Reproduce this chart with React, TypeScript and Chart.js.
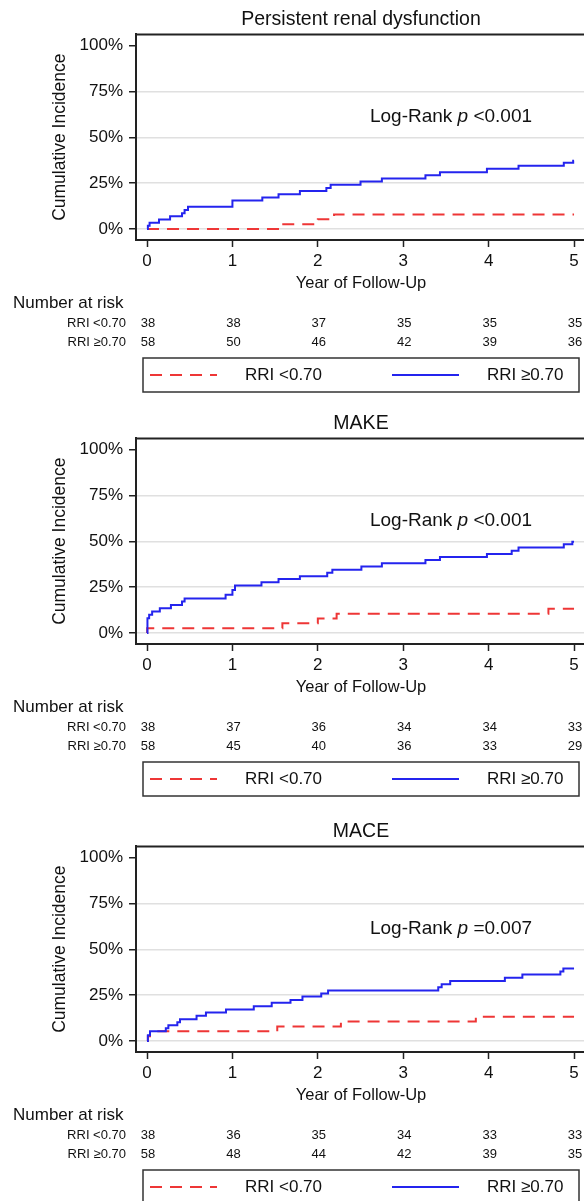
import React, { useEffect, useRef } from 'react';
import { Chart, registerables } from 'chart.js';

Chart.register(...registerables);

const FONT = '"Liberation Sans", Arial, Helvetica, sans-serif';
const BLUE = '#2424ee';
const RED = '#ee3636';
const AXIS = '#222222';
const GRID = '#e0e0e0';
const TEXT = '#111111';

// ---- shared axis / label values ----
const xTicks = [0, 1, 2, 3, 4, 5];
const yTicks = [0, 25, 50, 75, 100];
const groupLabels = ['RRI <0.70', 'RRI \u22650.70'];
const riskYears = [0, 1, 2, 3, 4, 5];
const panelTitles = ['Persistent renal dysfunction', 'MAKE', 'MACE'];
const pValueTexts = ['<0.001', '<0.001', '=0.007'];

// ---- Panel 1: Persistent renal dysfunction ----
const prdLowTimes = [0, 1.56, 2.0, 2.19, 5.0];
const prdLowInc = [0, 2.6, 5.3, 7.9, 7.9];
const prdHighTimes = [0, 0.01, 0.03, 0.14, 0.27, 0.41, 0.44, 0.48, 1.0, 1.35, 1.54, 1.79, 2.1, 2.15, 2.5, 2.75, 3.26, 3.43, 3.98, 4.35, 4.88, 4.99, 5.0];
const prdHighInc = [0, 1.7, 3.4, 5.2, 6.9, 8.6, 10.3, 12.1, 15.5, 17.2, 19.0, 20.7, 22.4, 24.1, 25.9, 27.6, 29.3, 31.0, 32.8, 34.5, 36.2, 37.2, 37.2];
const prdRiskLow = [38, 38, 37, 35, 35, 35];
const prdRiskHigh = [58, 50, 46, 42, 39, 36];

// ---- Panel 2: MAKE ----
const makeLowTimes = [0, 0.002, 1.585, 2.0, 2.22, 4.7, 5.0];
const makeLowInc = [0, 2.6, 5.3, 7.9, 10.5, 13.2, 13.2];
const makeHighTimes = [0, 0.005, 0.025, 0.06, 0.15, 0.28, 0.41, 0.44, 0.92, 1.0, 1.03, 1.34, 1.54, 1.79, 2.11, 2.17, 2.51, 2.75, 3.26, 3.43, 3.98, 4.27, 4.35, 4.88, 4.98, 5.0];
const makeHighInc = [0, 8.0, 9.9, 11.7, 13.5, 15.3, 17.2, 18.8, 20.8, 23.4, 25.9, 27.7, 29.4, 31.0, 32.9, 34.5, 36.3, 38.0, 39.8, 41.4, 43.1, 44.9, 46.7, 48.4, 49.8, 49.8];
const makeRiskLow = [38, 37, 36, 34, 34, 33];
const makeRiskHigh = [58, 45, 40, 36, 33, 29];

// ---- Panel 3: MACE ----
const maceLowTimes = [0, 0.01, 0.035, 1.525, 2.27, 3.85, 5.0];
const maceLowInc = [0, 2.6, 5.3, 7.9, 10.6, 13.2, 13.2];
const maceHighTimes = [0, 0.01, 0.035, 0.22, 0.25, 0.355, 0.386, 0.58, 0.69, 0.925, 1.25, 1.46, 1.68, 1.82, 2.04, 2.12, 3.41, 3.45, 3.55, 4.19, 4.395, 4.84, 4.875, 5.0];
const maceHighInc = [0, 3.1, 5.3, 6.9, 8.6, 10.2, 11.9, 13.7, 15.5, 17.2, 19.0, 20.8, 22.4, 24.3, 25.9, 27.6, 29.3, 31.0, 32.7, 34.5, 36.3, 37.9, 39.6, 39.6];
const maceRiskLow = [38, 36, 35, 34, 33, 33];
const maceRiskHigh = [58, 48, 44, 42, 39, 35];

const panelLowTimes = [prdLowTimes, makeLowTimes, maceLowTimes];
const panelLowInc = [prdLowInc, makeLowInc, maceLowInc];
const panelHighTimes = [prdHighTimes, makeHighTimes, maceHighTimes];
const panelHighInc = [prdHighInc, makeHighInc, maceHighInc];
const panelRiskLow = [prdRiskLow, makeRiskLow, maceRiskLow];
const panelRiskHigh = [prdRiskHigh, makeRiskHigh, maceRiskHigh];

const toPoints = (ts: number[], vs: number[]) => ts.map((t, i) => ({ x: t, y: vs[i] }));

const CANVAS_W = 600;
const X_AXIS_H = 55;
const PLOT_BOTTOM = 240;

function makeOverlay(idx: number) {
  return {
    id: 'kmOverlay' + idx,
    afterDraw(chart: any) {
      const { ctx, chartArea, scales } = chart;
      const xs = scales.x;
      const ys = scales.y;
      ctx.save();
      // top frame line
      ctx.strokeStyle = AXIS;
      ctx.lineWidth = 2;
      ctx.beginPath();
      ctx.moveTo(chartArea.left - 1, chartArea.top);
      ctx.lineTo(chartArea.right, chartArea.top);
      ctx.stroke();

      // Log-rank annotation
      ctx.fillStyle = TEXT;
      ctx.textBaseline = 'middle';
      ctx.textAlign = 'left';
      let tx = xs.getPixelForValue(2.61);
      const ty = ys.getPixelForValue(61.3);
      ctx.font = `19px ${FONT}`;
      const part1 = 'Log-Rank ';
      ctx.fillText(part1, tx, ty);
      tx += ctx.measureText(part1).width;
      ctx.font = `italic 19px ${FONT}`;
      ctx.fillText('p', tx, ty);
      tx += ctx.measureText('p ').width;
      ctx.font = `19px ${FONT}`;
      ctx.fillText(pValueTexts[idx], tx, ty);

      // Number at risk table
      ctx.font = `17px ${FONT}`;
      ctx.fillText('Number at risk', 13, 303);
      ctx.font = `13px ${FONT}`;
      ctx.textAlign = 'right';
      ctx.fillText(groupLabels[0], 126, 323);
      ctx.fillText(groupLabels[1], 126, 342);
      ctx.textAlign = 'center';
      riskYears.forEach((yr, i) => {
        const px = xs.getPixelForValue(yr) + 1;
        ctx.fillText(String(panelRiskLow[idx][i]), px, 323);
        ctx.fillText(String(panelRiskHigh[idx][i]), px, 342);
      });

      // legend box
      ctx.strokeStyle = '#333333';
      ctx.lineWidth = 1.5;
      ctx.strokeRect(143, 358, 436, 34);
      ctx.lineWidth = 2;
      ctx.strokeStyle = RED;
      ctx.setLineDash([12, 8]);
      ctx.beginPath();
      ctx.moveTo(150, 375);
      ctx.lineTo(217, 375);
      ctx.stroke();
      ctx.setLineDash([]);
      ctx.strokeStyle = BLUE;
      ctx.beginPath();
      ctx.moveTo(392, 375);
      ctx.lineTo(459, 375);
      ctx.stroke();
      ctx.font = `17px ${FONT}`;
      ctx.textAlign = 'left';
      ctx.fillStyle = TEXT;
      ctx.fillText(groupLabels[0], 245, 375);
      ctx.fillText(groupLabels[1], 487, 375);
      ctx.restore();
    },
  };
}

function KMPanel({ idx, top, height }: { idx: number; top: number; height: number }) {
  const ref = useRef<HTMLCanvasElement>(null);
  useEffect(() => {
    const canvas = ref.current;
    if (!canvas) return;
    const chart = new Chart(canvas, {
      type: 'line',
      data: {
        datasets: [
          {
            label: groupLabels[1],
            data: toPoints(panelHighTimes[idx], panelHighInc[idx]),
            borderColor: BLUE,
            borderWidth: 2,
            stepped: 'before',
            pointRadius: 0,
            fill: false,
          },
          {
            label: groupLabels[0],
            data: toPoints(panelLowTimes[idx], panelLowInc[idx]),
            borderColor: RED,
            borderWidth: 2,
            borderDash: [12, 8],
            stepped: 'before',
            pointRadius: 0,
            fill: false,
          },
        ],
      },
      options: {
        responsive: false,
        animation: false,
        events: [],
        layout: { padding: { left: 0, right: 14, top: 0, bottom: height - PLOT_BOTTOM - X_AXIS_H } },
        plugins: {
          legend: { display: false },
          tooltip: { enabled: false },
          title: {
            display: true,
            text: panelTitles[idx],
            fullSize: false,
            color: TEXT,
            font: { family: FONT, size: 19.5, weight: 'normal' },
            padding: { top: 8, bottom: 3 },
          },
        },
        scales: {
          x: {
            type: 'linear',
            min: -0.129,
            max: 5.14,
            afterBuildTicks: (s: any) => {
              s.ticks = xTicks.map((v) => ({ value: v }));
            },
            afterFit: (s: any) => {
              s.height = X_AXIS_H;
            },
            ticks: {
              color: TEXT,
              font: { family: FONT, size: 17 },
              padding: 4,
              maxRotation: 0,
              autoSkip: false,
              callback: (v: any) => String(v),
            },
            grid: {
              drawOnChartArea: false,
              drawTicks: true,
              tickLength: 7,
              tickColor: AXIS,
              tickWidth: 1.5,
            },
            border: { display: true, color: AXIS, width: 2 },
            title: {
              display: true,
              text: 'Year of Follow-Up',
              color: TEXT,
              font: { family: FONT, size: 16.5 },
              padding: { top: 0, bottom: 2 },
            },
          },
          y: {
            type: 'linear',
            min: -6.02,
            max: 106.18,
            afterBuildTicks: (s: any) => {
              s.ticks = yTicks.map((v) => ({ value: v }));
            },
            afterFit: (s: any) => {
              s.width = 136;
            },
            ticks: {
              color: TEXT,
              font: { family: FONT, size: 17 },
              padding: 6,
              callback: (v: any) => v + '%',
            },
            grid: {
              color: (c: any) => (c.tick && c.tick.value === 100 ? 'rgba(0,0,0,0)' : GRID),
              lineWidth: 1.5,
              drawTicks: true,
              tickLength: 7,
              tickColor: AXIS,
              tickWidth: 1.5,
            },
            border: { display: true, color: AXIS, width: 2 },
            title: {
              display: true,
              text: 'Cumulative Incidence',
              color: TEXT,
              font: { family: FONT, size: 17.5 },
              padding: { top: 49.5, bottom: 0 },
            },
          },
        },
      },
      plugins: [makeOverlay(idx)],
    } as any);
    return () => chart.destroy();
  }, [idx, height]);
  return (
    <canvas
      ref={ref}
      width={CANVAS_W}
      height={height}
      style={{ position: 'absolute', left: 0, top, width: CANVAS_W, height, display: 'block' }}
    />
  );
}

const panelTops = [0, 404, 812];
const panelHeights = [404, 404, 389];

export default function App() {
  return (
    <div
      style={{
        position: 'absolute',
        left: 0,
        top: 0,
        width: 584,
        height: 1201,
        overflow: 'hidden',
        background: '#ffffff',
      }}
    >
      {panelTops.map((t, i) => (
        <KMPanel key={i} idx={i} top={t} height={panelHeights[i]} />
      ))}
    </div>
  );
}
